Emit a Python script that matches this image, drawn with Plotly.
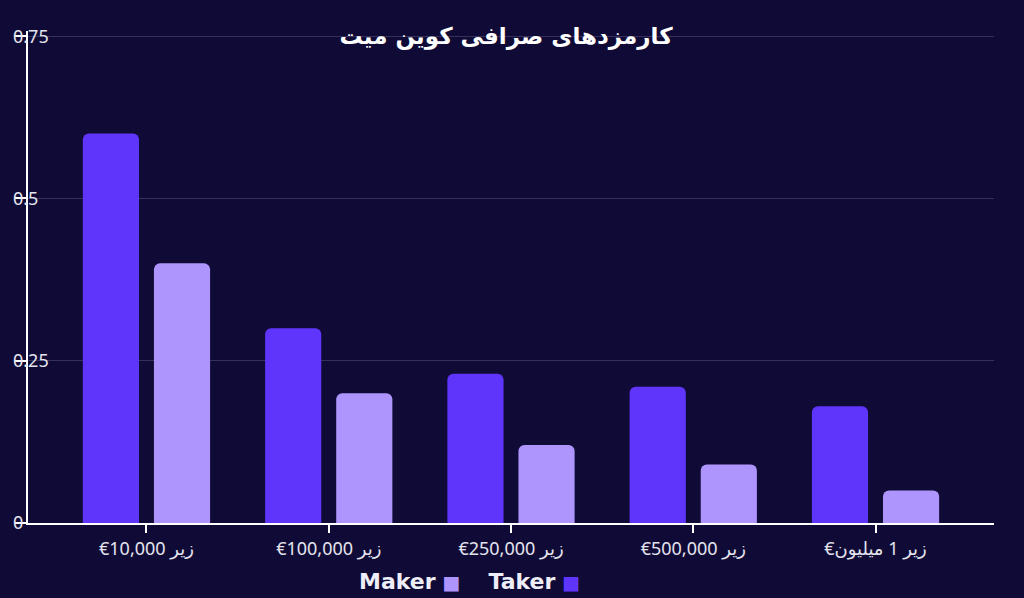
import plotly.graph_objects as go

## DATA
categories = ["€10,000 زیر", "€100,000 زیر", "€250,000 زیر", "€500,000 زیر",
              "\u202bزیر 1 میلیون€\u202c"]
takerFees = [0.6, 0.3, 0.23, 0.21, 0.18]
makerFees = [0.4, 0.2, 0.12, 0.09, 0.05]
yTicks = [0, 0.25, 0.5, 0.75]
yTickText = ["0", "0.25", "0.5", "0.75"]

## STYLE
bgColor = "#100b36"
takerColor = "#6035fb"
makerColor = "#ad95fd"
gridColor = "#35305c"
labelColor = "#e4e4ee"
yRange = [0, 0.758]

fig = go.Figure()
fig.add_trace(go.Bar(name="Taker", x=categories, y=takerFees,
                     marker=dict(color=takerColor, line=dict(width=0))))
fig.add_trace(go.Bar(name="Maker", x=categories, y=makerFees,
                     marker=dict(color=makerColor, line=dict(width=0))))
# invisible trace so the label axis is drawn
fig.add_trace(go.Scatter(x=[categories[0]], y=[0], yaxis="y2", mode="markers",
                         marker=dict(opacity=0), hoverinfo="skip", showlegend=False))

fig.update_layout(
    width=1024, height=598,
    paper_bgcolor=bgColor, plot_bgcolor=bgColor,
    margin=dict(l=12, r=30, t=31, b=75),
    barmode="group", bargap=0.22, bargroupgap=0.21, barcornerradius=6,
    showlegend=False,
    title=dict(text="<b>کارمزدهای صرافی کوین میت</b>",
               font=dict(family="DejaVu Sans", size=23, color="white"),
               x=506 / 1024, xanchor="center", y=1 - 36 / 598, yanchor="middle"),
    font=dict(family="Noto Sans, DejaVu Sans", color=labelColor),
    xaxis=dict(domain=[16 / 982, 1], range=[-0.65, 4.65],
               showline=True, linecolor="white", linewidth=2,
               ticks="outside", ticklen=8, tickwidth=2, tickcolor="white",
               tickfont=dict(size=18, color=labelColor), showgrid=False),
    yaxis=dict(range=yRange, tickvals=yTicks, showticklabels=False,
               showline=True, linecolor="white", linewidth=2,
               ticks="outside", ticklen=11, tickwidth=1.5, tickcolor="white",
               showgrid=True, gridcolor=gridColor, gridwidth=1, zeroline=False),
    # tick labels sit across the axis line, as in the source chart
    yaxis2=dict(range=yRange, tickvals=yTicks, ticktext=yTickText,
                overlaying="y", anchor="free", position=0, side="right",
                showline=False, showgrid=False, zeroline=False, ticks="",
                tickfont=dict(size=18, color=labelColor)),
)

## LEGEND (text then swatch)
swatch = "<span style='color:%s;font-size:19px'>■</span>"
fig.add_annotation(
    xref="paper", yref="paper", x=(469 - 12) / 982, y=(523 - 581) / 492,
    xanchor="center", yanchor="middle", showarrow=False,
    font=dict(family="DejaVu Sans", size=22, color="#eeeef8"),
    text=("<b>Maker</b> " + swatch % makerColor +
          "&nbsp;&nbsp;&nbsp;&nbsp;<b>Taker</b> " + swatch % takerColor),
)

fig.write_html("out.html", config={"displayModeBar": False},
               post_script="document.body.style.margin='0';")
